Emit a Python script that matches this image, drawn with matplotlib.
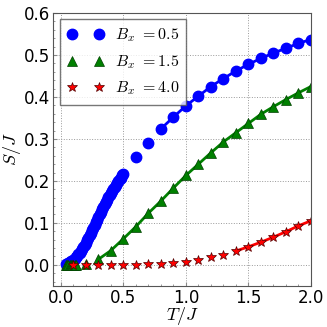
import matplotlib
matplotlib.use("Agg")
import matplotlib.pyplot as plt
import numpy as np

plt.rcParams['mathtext.fontset'] = 'cm'

# B_x = 0.5 : dense low-T points, then coarse grid
T_blue_dense = [0.04, 0.05, 0.06, 0.07, 0.08, 0.09, 0.10, 0.11, 0.12, 0.13,
                0.14, 0.15, 0.16, 0.17, 0.18, 0.19, 0.20, 0.21, 0.22, 0.23,
                0.24, 0.25, 0.26, 0.27, 0.28, 0.29, 0.30, 0.31, 0.32, 0.33,
                0.34, 0.35, 0.36, 0.37, 0.38, 0.39, 0.40, 0.41, 0.42, 0.43,
                0.44, 0.45, 0.46, 0.47, 0.48, 0.49, 0.50]
S_blue_dense = [0.002, 0.003, 0.004, 0.006, 0.008, 0.010, 0.012, 0.015, 0.018, 0.021,
                0.025, 0.029, 0.033, 0.037, 0.042, 0.047, 0.052, 0.058, 0.064, 0.070,
                0.076, 0.082, 0.088, 0.095, 0.101, 0.107, 0.113, 0.120, 0.126, 0.132,
                0.138, 0.144, 0.150, 0.155, 0.161, 0.166, 0.171, 0.176, 0.181, 0.186,
                0.191, 0.195, 0.200, 0.204, 0.208, 0.213, 0.217]
T_blue = [0.6, 0.7, 0.8, 0.9, 1.0, 1.1, 1.2, 1.3, 1.4, 1.5, 1.6, 1.7, 1.8, 1.9, 2.0]
S_blue = [0.256, 0.291, 0.324, 0.352, 0.379, 0.402, 0.425, 0.444, 0.462,
          0.478, 0.492, 0.505, 0.516, 0.528, 0.537]

# B_x = 1.5
T_green_dense = [0.04, 0.05, 0.06, 0.07, 0.08, 0.09, 0.10, 0.11, 0.12]
S_green_dense = [0.0, 0.0, 0.0, 0.0, 0.0, 0.0, 0.0, 0.0, 0.0]
T_green = [0.2, 0.3, 0.4, 0.5, 0.6, 0.7, 0.8, 0.9, 1.0, 1.1, 1.2, 1.3, 1.4,
           1.5, 1.6, 1.7, 1.8, 1.9, 2.0]
S_green = [0.002, 0.013, 0.034, 0.062, 0.091, 0.123, 0.152, 0.183, 0.213,
           0.240, 0.267, 0.293, 0.315, 0.337, 0.359, 0.377, 0.394, 0.410, 0.425]

# B_x = 4.0
T_red = [0.1, 0.2, 0.3, 0.4, 0.5, 0.6, 0.7, 0.8, 0.9, 1.0, 1.1, 1.2, 1.3, 1.4,
         1.5, 1.6, 1.7, 1.8, 1.9, 2.0]
S_red = [0.0, 0.0, 0.0, 0.0, 0.0, 0.0, 0.001, 0.002, 0.004, 0.007, 0.012,
         0.018, 0.024, 0.033, 0.043, 0.054, 0.066, 0.079, 0.093, 0.105]

# range covered by the solid lines
blue_line_from = 0.8
green_line_from = 0.3
red_line_from = 1.4

fig = plt.figure(figsize=(3.27, 3.27), dpi=100)
ax = fig.add_axes([0.163, 0.126, 0.788, 0.834])

tb = np.array(T_blue); sb = np.array(S_blue)
tg = np.array(T_green); sg = np.array(S_green)
tr = np.array(T_red); sr = np.array(S_red)

ax.plot(tb[tb >= blue_line_from], sb[tb >= blue_line_from], '-', color='b', lw=2)
ax.plot(tg[tg >= green_line_from], sg[tg >= green_line_from], '-', color='g', lw=2)
ax.plot(tr[tr >= red_line_from], sr[tr >= red_line_from], '-', color='r', lw=2)

ax.plot(T_blue_dense + T_blue, S_blue_dense + S_blue, 'o', color='b',
        mec='b', ms=7.5, label=r'$B_x$ $=$$0.5$')
ax.plot(T_green_dense + T_green, S_green_dense + S_green, '^', color='g',
        mec='#004000', mew=0.5, ms=7.5, label=r'$B_x$ $=$$1.5$')
ax.plot(T_red, S_red, '*', color='r', mec='#500000', mew=0.5, ms=7.5,
        label=r'$B_x$ $=$$4.0$')

ax.set_xlim(-0.06, 2.0)
ax.set_ylim(-0.05, 0.6)
ax.set_xticks([0.0, 0.5, 1.0, 1.5, 2.0])
ax.set_yticks([0.0, 0.1, 0.2, 0.3, 0.4, 0.5, 0.6])
ax.minorticks_on()
ax.tick_params(which='both', direction='in', color='#888888', labelsize=12)
ax.tick_params(which='major', length=3, pad=2)
ax.tick_params(which='minor', length=1.5)
for sp in ax.spines.values():
    sp.set_color('#555555')

ax.grid(True, which='major', linestyle=':', color='#999999', lw=0.7)
ax.set_xlabel(r'$T/J$', fontsize=13, labelpad=-1)
ax.set_ylabel(r'$S/J$', fontsize=13, labelpad=1)

leg = ax.legend(loc='upper left', numpoints=2, fontsize=11.5, fancybox=False,
                handlelength=2.3, handletextpad=0.7, borderaxespad=0.4,
                labelspacing=0.55, borderpad=0.45)
leg.get_frame().set_edgecolor('#555555')

fig.savefig('out.png', dpi=100)
